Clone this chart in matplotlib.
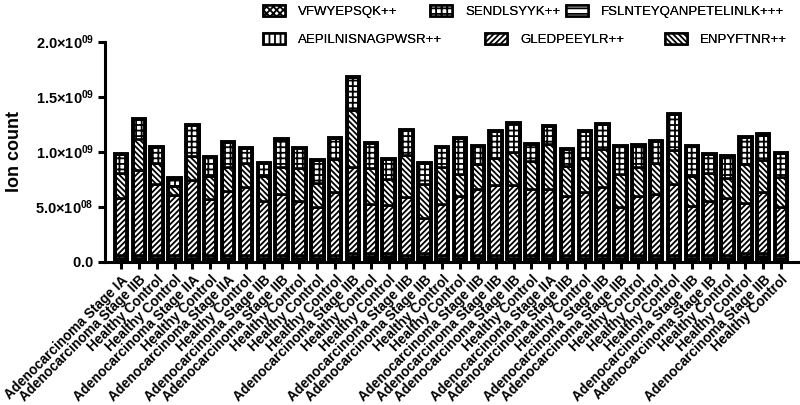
import matplotlib
matplotlib.use("Agg")
import matplotlib.pyplot as plt
from matplotlib.patches import Patch
import numpy as np

plt.rcParams['font.family'] = ['Liberation Sans', 'DejaVu Sans']
plt.rcParams['mathtext.fontset'] = 'custom'
plt.rcParams['mathtext.rm'] = 'Liberation Sans'
plt.rcParams['mathtext.bf'] = 'Liberation Sans:bold'
plt.rcParams['hatch.color'] = 'black'
plt.rcParams['hatch.linewidth'] = 1.3

IA = "Adenocarcinoma Stage IA"
IB = "Adenocarcinoma Stage IB"
IIA = "Adenocarcinoma Stage IIA"
IIB = "Adenocarcinoma Stage IIB"
HC = "Healthy Control"

categories = [IA, IIB, HC, HC, IIA, HC, IIA, HC, IIB, IIB,
              HC, HC, HC, IIB, HC, HC, IIB, IIB, HC, HC,
              IIB, IIB, IIB, HC, IIA, IIB, HC, IIB, IIB, HC,
              HC, HC, IIB, IB, HC, HC, IIB, HC]

# values in units of 1e9 ion counts (stack order bottom -> top)
VFWYEPSQK = [0.008, 0.008, 0.008, 0.008, 0.008, 0.008, 0.008, 0.008, 0.008, 0.008,
             0.008, 0.008, 0.008, 0.025, 0.025, 0.025, 0.008, 0.025, 0.008, 0.008,
             0.008, 0.008, 0.008, 0.008, 0.008, 0.008, 0.008, 0.008, 0.008, 0.008,
             0.008, 0.008, 0.008, 0.008, 0.008, 0.025, 0.025, 0.008]
FSLNTEYQANPETELINLK = [0.03] * 38
AEPILNISNAGPWSR = [0.025] * 38
GLEDPEEYLR = [0.512, 0.767, 0.647, 0.547, 0.677, 0.507, 0.577, 0.617, 0.492, 0.552,
              0.487, 0.437, 0.572, 0.780, 0.445, 0.435, 0.527, 0.320, 0.462, 0.537,
              0.597, 0.637, 0.637, 0.597, 0.597, 0.532, 0.567, 0.617, 0.437, 0.537,
              0.552, 0.642, 0.447, 0.487, 0.517, 0.450, 0.550, 0.437]
ENPYFTNR = [0.235, 0.290, 0.190, 0.080, 0.220, 0.210, 0.220, 0.220, 0.225, 0.245,
            0.300, 0.215, 0.295, 0.520, 0.325, 0.235, 0.380, 0.310, 0.335, 0.200,
            0.230, 0.240, 0.300, 0.255, 0.410, 0.275, 0.310, 0.345, 0.300, 0.260,
            0.285, 0.310, 0.270, 0.260, 0.185, 0.360, 0.295, 0.270]
SENDLSYYK = [0.170, 0.180, 0.145, 0.070, 0.280, 0.175, 0.225, 0.130, 0.120, 0.255,
             0.185, 0.205, 0.190, 0.300, 0.225, 0.180, 0.225, 0.185, 0.185, 0.325,
             0.165, 0.250, 0.260, 0.155, 0.160, 0.155, 0.250, 0.225, 0.250, 0.200,
             0.200, 0.325, 0.270, 0.170, 0.200, 0.240, 0.235, 0.215]

series = [
    ("VFWYEPSQK++", VFWYEPSQK, 'xxxxx'),
    ("FSLNTEYQANPETELINLK+++", FSLNTEYQANPETELINLK, '---'),
    ("AEPILNISNAGPWSR++", AEPILNISNAGPWSR, '|||'),
    ("GLEDPEEYLR++", GLEDPEEYLR, '//////'),
    ("ENPYFTNR++", ENPYFTNR, '\\\\\\\\\\\\'),
    ("SENDLSYYK++", SENDLSYYK, '+++'),
]

fig = plt.figure(figsize=(8.0, 4.05), dpi=100)
ax = fig.add_axes([105/800, 1-261.7/405, 695/800, 220/405])

x = np.arange(len(categories))
bottom = np.zeros(len(categories))
handles = {}
for name, vals, hatch in series:
    v = np.array(vals) * 1e9
    ax.bar(x, v, bottom=bottom, width=0.7, color='white', edgecolor='black',
           linewidth=1.9, hatch=hatch, zorder=2)
    handles[name] = Patch(facecolor='white', edgecolor='black', hatch=hatch, linewidth=1.8)
    bottom += v
# thick outline around whole bar
ax.bar(x, bottom, width=0.7, fill=False, edgecolor='black', linewidth=2.8, zorder=3)

ax.set_xlim(-0.9, 38.06)
ax.set_ylim(0, 2e9)
ax.set_yticks([0, 0.5e9, 1.0e9, 1.5e9, 2.0e9])
ax.set_yticklabels([r'$\mathbf{0.0}$', r'$\mathbf{5.0{\times}10^{08}}$', r'$\mathbf{1.0{\times}10^{09}}$',
                    r'$\mathbf{1.5{\times}10^{09}}$', r'$\mathbf{2.0{\times}10^{09}}$'], fontsize=10.5)
ax.set_xticks(x)
ax.set_xticklabels(categories, rotation=45, ha='right', va='top', rotation_mode='anchor',
                   fontsize=9.8, fontweight='bold')
for s in ['top', 'right']:
    ax.spines[s].set_visible(False)
for s in ['left', 'bottom']:
    ax.spines[s].set_linewidth(2.2)
ax.tick_params(axis='both', width=2.2, length=5, pad=3)
ax.set_ylabel('Ion count', fontsize=13, fontweight='bold')
ax.yaxis.set_label_coords(-82/695, 0.5)

# legend entries placed individually (patch left x, top y in pixels)
legend_pos = [
    ("VFWYEPSQK++", 263, 5),
    ("SENDLSYYK++", 430, 5),
    ("FSLNTEYQANPETELINLK+++", 566, 5),
    ("AEPILNISNAGPWSR++", 263, 33),
    ("GLEDPEEYLR++", 485, 33),
    ("ENPYFTNR++", 665, 33),
]
for name, px, py in legend_pos:
    lg = fig.legend([handles[name]], [name], loc='upper left',
                    bbox_to_anchor=(px/800, 1-py/405), frameon=False, fontsize=9.5,
                    handlelength=1.65, handleheight=0.95, handletextpad=1.0,
                    borderpad=0, borderaxespad=0)
    fig.add_artist(lg)

fig.savefig('out.png', dpi=100)
